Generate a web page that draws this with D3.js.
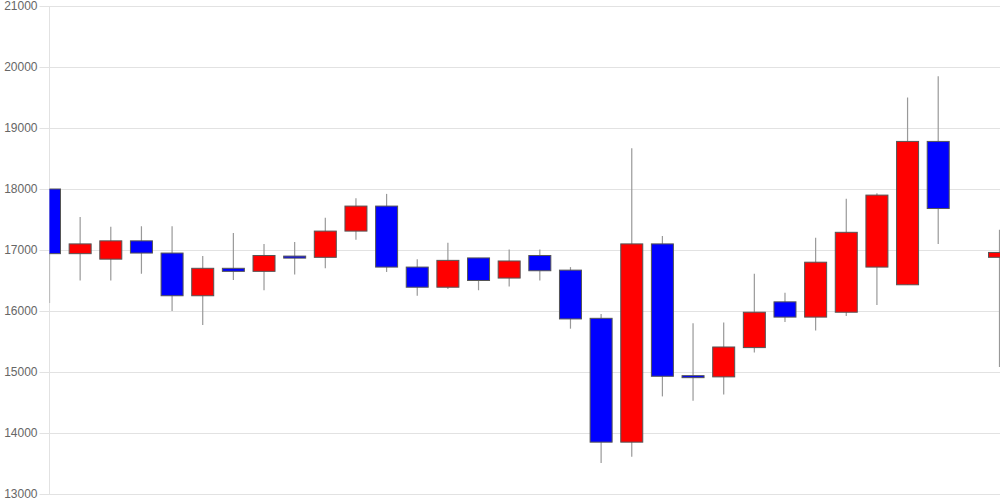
<!DOCTYPE html>
<html>
<head>
<meta charset="utf-8">
<script src="https://cdn.jsdelivr.net/npm/d3@7"></script>
<style>
  html, body { margin: 0; padding: 0; background: #fff; }
  svg { display: block; font-family: "Liberation Sans", Arial, sans-serif; }
</style>
</head>
<body>
<svg id="chart" width="1000" height="500"></svg>
<script>
// one slot per trading day, slot 30 is empty
const opens  = [18000, 16940, 16850, 17150, 16950, 16250, 16700, 16650, 16900, 16880, 17310, 17720, 16720, 16390, 16870, 16540, 16910, 16670, 15880, 13850, 17100, 14940, 14920, 15400, 16150, 15900, 15980, 16720, 16430, 18780, null, 16880];
const closes = [16940, 17100, 17150, 16950, 16250, 16700, 16650, 16910, 16870, 17310, 17720, 16720, 16390, 16830, 16500, 16820, 16660, 15870, 13850, 17100, 14930, 14930, 15410, 15980, 15900, 16800, 17290, 17900, 18780, 17680, null, 16960];
const highs  = [18000, 17540, 17380, 17390, 17390, 16900, 17280, 17100, 17130, 17530, 17850, 17920, 16850, 17120, 16870, 17010, 17010, 16720, 15950, 18670, 17230, 15800, 15810, 16610, 16300, 17200, 17840, 17930, 19500, 19850, null, 17330];
const lows   = [16130, 16500, 16500, 16610, 16000, 15770, 16510, 16340, 16600, 16700, 17170, 16640, 16250, 16360, 16340, 16400, 16500, 15710, 13510, 13610, 14600, 14530, 14630, 15320, 15820, 15680, 15920, 16100, 16430, 17100, null, 15080];
const yTicks = [13000, 14000, 15000, 16000, 17000, 18000, 19000, 20000, 21000];

const svg = d3.select('#chart');
const plotLeft = 49.5, plotRight = 1000, plotTop = 6, plotBottom = 494;

const candles = opens.map((o, i) => ({
  i, open: o, close: closes[i], high: highs[i], low: lows[i]
})).filter(d => d.open !== null);

const x = d3.scaleLinear().domain([0, opens.length - 1]).range([plotLeft, 999.5]);
const y = d3.scaleLinear().domain([13000, 21000]).range([plotBottom, plotTop]);
const bodyW = 22;

// Grid + labels
const yAxis = d3.axisLeft(y)
  .tickValues(yTicks)
  .tickSize(-(plotRight - plotLeft) - 10)
  .tickPadding(2)
  .tickFormat(d3.format('d'));

svg.append('g')
  .attr('transform', `translate(${plotLeft - 10},0)`)
  .call(yAxis)
  .call(g => g.select('.domain').remove())
  .call(g => g.selectAll('.tick line').attr('stroke', '#e2e2e2'))
  .call(g => g.selectAll('.tick text')
    .attr('fill', '#666')
    .attr('font-size', 12)
    .attr('font-family', '"Liberation Sans", Arial, sans-serif'));

// left border
svg.append('line')
  .attr('x1', plotLeft).attr('x2', plotLeft)
  .attr('y1', plotTop).attr('y2', plotBottom)
  .attr('stroke', '#e2e2e2');

svg.append('clipPath').attr('id', 'plot-clip')
  .append('rect')
  .attr('x', plotLeft).attr('y', 0)
  .attr('width', plotRight - plotLeft).attr('height', 500);

const g = svg.append('g').attr('clip-path', 'url(#plot-clip)');

// Wicks
g.selectAll('.wick')
  .data(candles)
  .join('line')
  .attr('class', 'wick')
  .attr('x1', d => x(d.i)).attr('x2', d => x(d.i))
  .attr('y1', d => y(d.high)).attr('y2', d => y(d.low))
  .attr('stroke', '#999')
  .attr('stroke-width', 1.2);

// Bodies
g.selectAll('.body')
  .data(candles)
  .join('rect')
  .attr('class', 'body')
  .attr('x', d => x(d.i) - bodyW / 2)
  .attr('y', d => y(Math.max(d.open, d.close)))
  .attr('width', bodyW)
  .attr('height', d => Math.max(2, Math.abs(y(d.open) - y(d.close))))
  .attr('fill', d => d.close >= d.open ? '#ff0000' : '#0000ff')
  .attr('stroke', '#555')
  .attr('stroke-width', 1);
</script>
</body>
</html>
